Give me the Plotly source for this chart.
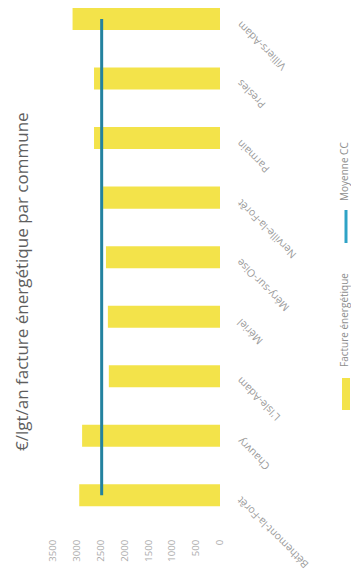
import plotly.graph_objects as go

# Energy bill per dwelling and per commune (€/dwelling/year)
communes = [
    "Béthemont-la-Forêt",
    "Chauvry",
    "L'Isle-Adam",
    "Mériel",
    "Méry-sur-Oise",
    "Nerville-la-Forêt",
    "Parmain",
    "Presles",
    "Villiers-Adam",
]
facture = [2950, 2890, 2330, 2350, 2390, 2450, 2640, 2640, 3090]
moyenne_cc = 2480
value_ticks = [0, 500, 1000, 1500, 2000, 2500, 3000, 3500]

W, H = 351, 582
L, R, T, B = 53, 131, 0, 57
plot_w = W - L - R
plot_h = H - T - B


def px_x(px):
    return (px - L) / plot_w


def px_y(py):
    return (H - B - py) / plot_h


YELLOW = "#F3E34A"
TEAL = "#23829F"

fig = go.Figure()
fig.add_trace(go.Bar(
    x=facture, y=communes, orientation="h",
    marker=dict(color=YELLOW, line=dict(width=0)),
    name="Facture énergétique",
))
fig.add_trace(go.Scatter(
    x=[moyenne_cc] * len(communes), y=communes, mode="lines",
    line=dict(color=TEAL, width=3),
    name="Moyenne CC",
))

# Commune labels, slanted next to the end of each bar
for c in communes:
    fig.add_annotation(
        x=0, y=c, xref="x", yref="y", text=c, showarrow=False,
        textangle=-135, xanchor="left", yanchor="top",
        xshift=11, yshift=4,
        font=dict(family="Open Sans", size=10.5, color="#9A9A9A"),
    )

# Chart title along the left edge
fig.add_annotation(
    x=px_x(21), y=px_y(282), xref="paper", yref="paper",
    text="€/lgt/an facture énergétique par commune", showarrow=False,
    textangle=-90, xanchor="center", yanchor="middle",
    font=dict(family="Open Sans", size=17, color="#5E5E5E"),
)

# Legend drawn along the right edge
fig.add_shape(type="rect", xref="paper", yref="paper",
              x0=px_x(342), x1=px_x(350), y0=px_y(410), y1=px_y(378),
              fillcolor=YELLOW, line=dict(width=0))
fig.add_annotation(
    x=px_x(344), y=px_y(320), xref="paper", yref="paper",
    text="Facture énergétique", showarrow=False, textangle=-90,
    xanchor="center", yanchor="middle",
    font=dict(family="Open Sans", size=10, color="#8E8E8E"),
)
fig.add_shape(type="line", xref="paper", yref="paper",
              x0=px_x(346), x1=px_x(346), y0=px_y(243), y1=px_y(210),
              line=dict(color="#2FA3C6", width=3))
fig.add_annotation(
    x=px_x(344), y=px_y(172), xref="paper", yref="paper",
    text="Moyenne CC", showarrow=False, textangle=-90,
    xanchor="center", yanchor="middle",
    font=dict(family="Open Sans", size=10, color="#8E8E8E"),
)

fig.update_layout(
    width=W, height=H,
    margin=dict(l=L, r=R, t=T, b=B, pad=0),
    paper_bgcolor="white", plot_bgcolor="white",
    showlegend=False,
    bargap=0.63,
    xaxis=dict(
        range=[3500, 0], tickvals=value_ticks,
        ticktext=[str(v) for v in value_ticks],
        tickangle=-90, ticks="", ticklabelstandoff=12,
        showgrid=False, zeroline=False, showline=False,
        tickfont=dict(family="Open Sans", size=9.5, color="#ABABAB"),
    ),
    yaxis=dict(
        type="category", categoryorder="array", categoryarray=communes,
        range=[-0.5, 8.32], showticklabels=False, ticks="",
        showgrid=False, zeroline=False, showline=False,
    ),
)

fig.write_html("out.html")
